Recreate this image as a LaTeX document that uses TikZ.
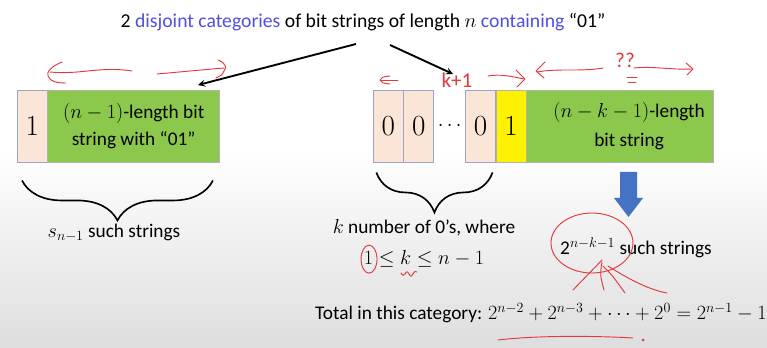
\documentclass[tikz,border=0pt]{standalone}
\usepackage{fontspec}
\setmainfont{Carlito}
\usetikzlibrary{positioning,decorations.pathreplacing}

\definecolor{catblue}{HTML}{4F4FE8}
\definecolor{cellpink}{HTML}{FBE5D6}
\definecolor{cellgreen}{HTML}{8CC84B}
\definecolor{cellframe}{HTML}{9AA4C6}
\definecolor{downblue}{HTML}{4472C4}
\definecolor{inkred}{HTML}{E0393E}

\begin{document}
\begin{tikzpicture}[x=0.03cm, y=-0.03cm,
    cell/.style={rectangle, draw=cellframe, fill=cellpink, minimum width=0.9cm, minimum height=2.16cm, inner sep=0pt, font=\fontsize{24}{24}\selectfont},
    onecell/.style={cell, draw=gray!60, fill=yellow},
    strbox/.style={rectangle, draw=gray!60, fill=cellgreen, minimum height=2.16cm, inner sep=0pt, align=center, font=\fontsize{16.5}{23}\selectfont},
    txt/.style={font=\fontsize{16.5}{26}\selectfont, align=center, inner sep=0pt},
    arrow/.style={->, line width=1.6pt, >=stealth},
    brace/.style={decorate, decoration={brace, mirror, amplitude=1.2cm}, line width=1.4pt},
    ink/.style={inkred, line width=0.8pt, line cap=round, line join=round},
    inktxt/.style={text=inkred, inner sep=0pt, font=\fontsize{18}{18}\selectfont}]

    % fond
    \fill[white] (0,0) rectangle (767,348);
    \shade[top color=white, bottom color=black!13] (0,150) rectangle (767,348);
    \useasboundingbox (0,0) rectangle (767,348);

    % titre
    \node[txt, font=\fontsize{16.8}{20}\selectfont] (title) at (363,22) {2 \textcolor{catblue}{disjoint categories} of bit strings of length $n$ \textcolor{catblue}{containing} “01”};

    % chaine de gauche
    \node[cell, anchor=north west] (lone) at (17,90) {$1$};
    \node[strbox, minimum width=5.16cm, right=0pt of lone] (lrest) {$(n-1)$-length bit\\string with “01”};

    % chaine de droite
    \node[cell, anchor=north west] (zeroa) at (373,90) {$0$};
    \node[cell, right=0pt of zeroa] (zerob) {$0$};
    \node[inner sep=0pt, minimum width=0.93cm, font=\fontsize{16}{16}\selectfont, right=0pt of zerob] (zdots) {$\cdots$};
    \node[cell, right=0pt of zdots] (zeroc) {$0$};
    \node[onecell, right=0pt of zeroc] (rone) {$1$};
    \node[strbox, minimum width=5.61cm, right=0pt of rone] (rrest) {};
    \node[txt, font=\fontsize{16.5}{25}\selectfont] (rtext) at ([xshift=0.27cm]rrest.center) {$(n-k-1)$-length\\bit string};

    % fleches
    \coordinate (lfrom) at (356,44);
    \coordinate (lto) at (198,85);
    \coordinate (rfrom) at (390,45);
    \coordinate (rto) at (453,74);
    \draw[arrow] (lfrom) -- (lto);
    \draw[arrow] (rfrom) -- (rto);

    % accolades
    \draw[brace] ([xshift=0.15cm, yshift=-0.54cm]lone.south west) -- ([xshift=-0.21cm, yshift=-0.54cm]lrest.south east);
    \draw[brace] ([xshift=0.1cm, yshift=-0.3cm]zeroa.south west) -- ([xshift=-0.1cm, yshift=-0.3cm]zeroc.south east);

    % comptes
    \node[txt] (lcount) at (114,233) {$s_{n-1}$ such strings};
    \node[txt] (rcount) at (424,228) {$k$ number of 0’s, where};
    \node[txt, below=0.42cm of rcount] (rrange) {$1 \le k \le n-1$};
    \fill[downblue] (620,172) -- (637,172) -- (637,198) -- (643,198) -- (628.5,217) -- (614,198) -- (620,198) -- cycle;
    \node[txt] (scount) at (636,248) {2$^{n-k-1}$ such strings};
    \node[txt] (total) at (541,313) {Total in this category: $2^{n-2}+2^{n-3}+\cdots+2^{0}=2^{n-1}-1$};

    % annotations rouges
    \draw[ink] (132,71) .. controls (100,66) and (80,75) .. (50,72);
    \draw[ink] (62,62) .. controls (52,66) and (46,72) .. (48,76) .. controls (50,82) and (58,83) .. (66,83);
    \draw[ink] (157,74) .. controls (180,72) and (200,70) .. (224,68);
    \draw[ink] (218,60) .. controls (226,63) and (227,68) .. (224,71) .. controls (222,75) .. (216,78);
    \draw[ink] (390,76) .. controls (382,77) .. (380,80) .. controls (382,83) .. (390,84);
    \draw[ink] (381,80) -- (398,80);
    \node[inktxt] (kplus) at (457,80) {k+1};
    \draw[ink] (488,76) .. controls (500,74) and (510,76) .. (524,79);
    \draw[ink] (516,70) -- (525,79) -- (517,87);
    \draw[ink] (603,68) .. controls (580,72) and (560,68) .. (537,72);
    \draw[ink] (545,62) -- (536,71) -- (544,78);
    \node[inktxt] (qq) at (625,60) {??};
    \draw[ink] (627,77) -- (637,77);
    \draw[ink] (628,82) -- (636,82);
    \draw[ink] (634,68) .. controls (655,66) and (670,70) .. (692,69);
    \draw[ink] (686,63) -- (693,69) -- (687,75);
    \draw[ink] ([xshift=0.16cm]rrange.west) ellipse [x radius=8, y radius=14];
    \draw[ink] (401,273) .. controls (403,276) .. (405,274) .. controls (407,271) .. (409,274) .. controls (411,277) .. (413,274) .. controls (415,271) .. (417,272);
    \draw[ink] ([xshift=0.96cm, yshift=0.15cm]scount.west) ellipse [x radius=41, y radius=30];
    \draw[ink] (602,260) -- (573,290);
    \draw[ink] (602,262) .. controls (600,275) .. (604,290);
    \draw[ink] (603,266) .. controls (612,275) .. (625,293);
    \draw[ink] (608,266) .. controls (630,280) and (650,290) .. (667,293);
    \draw[ink] (498,340) .. controls (540,335) and (600,336) .. (633,338);
    \fill[inkred] (643,340) circle [radius=1.5];
\end{tikzpicture}
\end{document}
